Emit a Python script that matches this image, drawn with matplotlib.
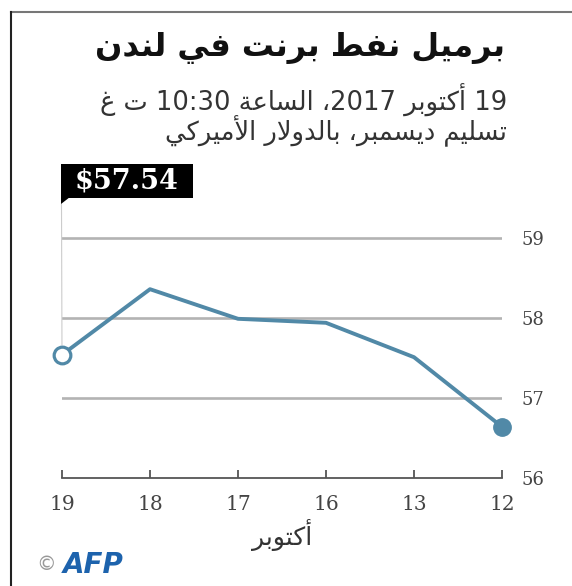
import re
import matplotlib
matplotlib.use("Agg")
import matplotlib.pyplot as plt
from matplotlib.patches import Polygon, Rectangle
from matplotlib.lines import Line2D

# data
days = ["19", "18", "17", "16", "13", "12"]
prices = [57.54, 58.36, 57.99, 57.94, 57.51, 56.64]
yticks = [56, 57, 58, 59]

title = "برميل نفط برنت في لندن"
sub1 = "19 أكتوبر 2017، الساعة 10:30 ت غ"
sub2 = "تسليم ديسمبر، بالدولار الأميركي"
xlab = "أكتوبر"

# --- minimal arabic shaping (matplotlib does no shaping / bidi) ---
FORMS = {
    '\u0627': ('\uFE8D', '\uFE8E', None, None),
    '\u0623': ('\uFE83', '\uFE84', None, None),
    '\u0628': ('\uFE8F', '\uFE90', '\uFE91', '\uFE92'),
    '\u0629': ('\uFE93', '\uFE94', None, None),
    '\u062A': ('\uFE95', '\uFE96', '\uFE97', '\uFE98'),
    '\u062F': ('\uFEA9', '\uFEAA', None, None),
    '\u0631': ('\uFEAD', '\uFEAE', None, None),
    '\u0633': ('\uFEB1', '\uFEB2', '\uFEB3', '\uFEB4'),
    '\u0637': ('\uFEC1', '\uFEC2', '\uFEC3', '\uFEC4'),
    '\u0639': ('\uFEC9', '\uFECA', '\uFECB', '\uFECC'),
    '\u063A': ('\uFECD', '\uFECE', '\uFECF', '\uFED0'),
    '\u0641': ('\uFED1', '\uFED2', '\uFED3', '\uFED4'),
    '\u0643': ('\uFED9', '\uFEDA', '\uFEDB', '\uFEDC'),
    '\u0644': ('\uFEDD', '\uFEDE', '\uFEDF', '\uFEE0'),
    '\u0645': ('\uFEE1', '\uFEE2', '\uFEE3', '\uFEE4'),
    '\u0646': ('\uFEE5', '\uFEE6', '\uFEE7', '\uFEE8'),
    '\u0648': ('\uFEED', '\uFEEE', None, None),
    '\u064A': ('\uFEF1', '\uFEF2', '\uFEF3', '\uFEF4'),
}
LAM_ALEF = {'\u0627': ('\uFEFB', '\uFEFC'), '\u0623': ('\uFEF7', '\uFEF8')}


def shape(word):
    chars = []
    i = 0
    while i < len(word):
        if word[i] == '\u0644' and i + 1 < len(word) and word[i + 1] in LAM_ALEF:
            chars.append(('LA', word[i + 1]))
            i += 2
        else:
            chars.append(word[i])
            i += 1

    def joins_next(c):
        return not isinstance(c, tuple) and c in FORMS and FORMS[c][2] is not None

    def joins_prev(c):
        return isinstance(c, tuple) or c in FORMS

    out = []
    for k, c in enumerate(chars):
        prev = chars[k - 1] if k > 0 else None
        nxt = chars[k + 1] if k + 1 < len(chars) else None
        cp = prev is not None and joins_next(prev) and joins_prev(c)
        cn = nxt is not None and joins_next(c) and joins_prev(nxt)
        if isinstance(c, tuple):
            out.append(LAM_ALEF[c[1]][1 if cp else 0])
        elif c not in FORMS:
            out.append(c)
        elif cp and cn:
            out.append(FORMS[c][3])
        elif cp:
            out.append(FORMS[c][1])
        elif cn:
            out.append(FORMS[c][2])
        else:
            out.append(FORMS[c][0])
    return ''.join(out)


def rtl(text):
    vis = []
    for tok in text.split(' '):
        parts = []
        for r in re.findall(r'[0-9:.$]+|[^0-9:.$]+', tok):
            parts.append(r if re.match(r'[0-9:.$]', r) else shape(r)[::-1])
        vis.append(''.join(reversed(parts)))
    return ' '.join(reversed(vis))


W, H = 572, 586
fig = plt.figure(figsize=(W / 100, H / 100), dpi=100)


def px(x, y):
    return x / W, 1 - y / H


ar = ['DejaVu Sans']
blue = '#5189a7'

# frame lines
fig.add_artist(Line2D([11 / W, 1], [1 - 12 / H] * 2, color='#777777', lw=1.5))
fig.add_artist(Line2D([11 / W] * 2, [1 - 12 / H, 0], color='#222222', lw=1.5))

fig.text(*px(505, 48), rtl(title), family=ar, fontsize=23, fontweight='bold',
         ha='right', va='center', color='#111111')
fig.text(*px(507, 100), rtl(sub1), family=ar, fontsize=18.5, ha='right',
         va='center', color='#333333')
fig.text(*px(507, 131), rtl(sub2), family=ar, fontsize=18.5, ha='right',
         va='center', color='#333333')

ax = fig.add_axes([62 / W, (H - 478) / H, 440 / W, 280 / H])
x = list(range(len(days)))
ax.set_xlim(0, len(days) - 1)
ax.set_ylim(56, 59.5)

for v in yticks[1:]:
    ax.axhline(v, color='#b3b3b3', lw=1.9, zorder=1)

ax.plot(x, prices, color=blue, lw=2.8, zorder=3, solid_joinstyle='round')
ax.plot(x[0], prices[0], 'o', ms=12, mfc='white', mec=blue, mew=2.3,
        zorder=4, clip_on=False)
ax.plot(x[-1], prices[-1], 'o', ms=12.5, mfc=blue, mec=blue, zorder=4,
        clip_on=False)

for s in ['top', 'left', 'right']:
    ax.spines[s].set_visible(False)
ax.spines['bottom'].set_color('#555555')
ax.spines['bottom'].set_linewidth(1.3)

ax.set_xticks(x)
ax.set_xticklabels(days, family='DejaVu Serif', fontsize=14.5, color='#444444')
ax.tick_params(axis='x', direction='in', length=5.5, width=1.3,
               color='#555555', pad=12)
ax.yaxis.tick_right()
ax.set_yticks(yticks)
ax.set_yticklabels([str(v) for v in yticks], family='DejaVu Serif',
                   fontsize=13, color='#444444')
ax.tick_params(axis='y', length=0, pad=14)
ax.set_xlabel(rtl(xlab), family=ar, fontsize=18, color='#333333', labelpad=4)

# last price callout: box, pointer tail and thin leader to the first point
fig.add_artist(Rectangle(px(61, 198), 132 / W, 34 / H, fc='black', ec='none'))
fig.add_artist(Polygon([px(61, 197), px(70, 197), px(61, 204)],
                       closed=True, fc='black', ec='none'))
fig.text(*px(127, 181), "$%.2f" % prices[0], family='DejaVu Serif',
         fontsize=19.5, fontweight='bold', color='white', ha='center',
         va='center')
ax.annotate('', xy=(x[0], prices[0]), xytext=(61.5, H - 204),
            textcoords='figure pixels',
            arrowprops=dict(arrowstyle='-', color='#cccccc', lw=0.8,
                            shrinkA=0, shrinkB=7), zorder=2)

fig.text(*px(36, 565), "©", fontsize=14, color='#999999', ha='left',
         va='center')
fig.text(*px(63, 565), "AFP", fontsize=20, fontweight='bold',
         style='italic', color='#1d63ad', ha='left', va='center')

fig.savefig("out.png", dpi=100)
